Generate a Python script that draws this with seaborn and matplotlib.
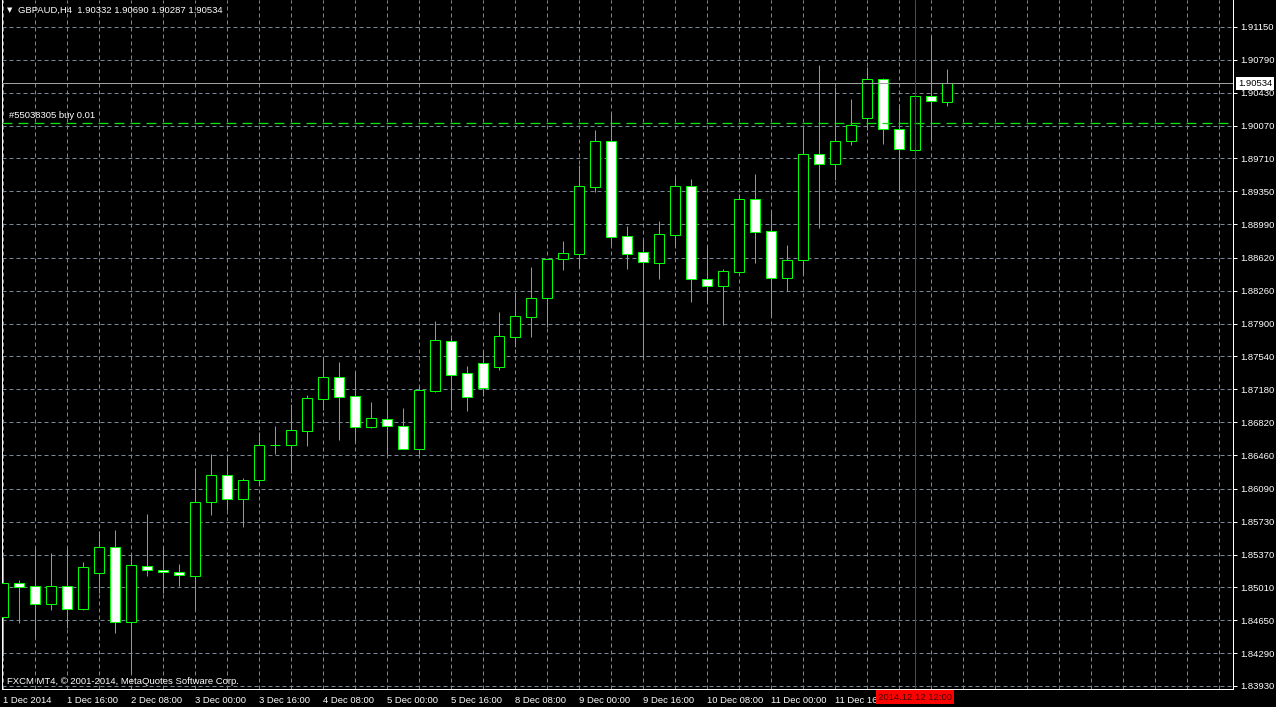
import numpy as np
import pandas as pd
import matplotlib
matplotlib.use('Agg')
import matplotlib.pyplot as plt
import matplotlib.transforms as mtransforms
import seaborn as sns

# GBPAUD H4 candles, 1 Dec 2014 00:00 .. 12 Dec 2014 20:00
open_ = [1.84689, 1.85055, 1.85022, 1.84825, 1.85022, 1.84770, 1.85165, 1.85450, 1.84628, 1.85248,
         1.85198, 1.85176, 1.85132, 1.85943, 1.86238, 1.85976, 1.86184, 1.86567, 1.86574, 1.86727,
         1.87078, 1.87312, 1.87104, 1.86771, 1.86852, 1.86775, 1.86530, 1.87165, 1.87707, 1.87356,
         1.87466, 1.87425, 1.87757, 1.87976, 1.88184, 1.88605, 1.88666, 1.89400, 1.89898, 1.88857,
         1.88682, 1.88568, 1.88874, 1.89405, 1.88386, 1.88316, 1.88469, 1.89262, 1.88912, 1.88397,
         1.88594, 1.89755, 1.89646, 1.89898, 1.90156, 1.90577, 1.90029, 1.89806, 1.90391, 1.90332]
high = [1.85347, 1.85091, 1.85439, 1.85384, 1.85439, 1.85285, 1.85632, 1.85639, 1.85365, 1.85814,
        1.85453, 1.85267, 1.86315, 1.86472, 1.86439, 1.86212, 1.86713, 1.86779, 1.87020, 1.87118,
        1.87538, 1.87480, 1.87370, 1.87042, 1.87085, 1.86976, 1.87217, 1.87929, 1.87750, 1.87436,
        1.87611, 1.88031, 1.88250, 1.88517, 1.88610, 1.88805, 1.89638, 1.90022, 1.90197, 1.88970,
        1.88816, 1.89025, 1.89514, 1.89485, 1.88751, 1.88499, 1.89317, 1.89540, 1.89120, 1.88762,
        1.90054, 1.90734, 1.90496, 1.90361, 1.90712, 1.90588, 1.90303, 1.90438, 1.91051, 1.90690]
low = [1.84259, 1.84617, 1.84470, 1.84763, 1.84562, 1.84765, 1.84952, 1.84514, 1.84072, 1.85138,
       1.84952, 1.85029, 1.84763, 1.85807, 1.85858, 1.85675, 1.86143, 1.86472, 1.86260, 1.86563,
       1.86954, 1.86625, 1.86600, 1.86757, 1.86472, 1.86525, 1.86472, 1.87154, 1.86954, 1.86943,
       1.87107, 1.87392, 1.87647, 1.87757, 1.87866, 1.88488, 1.88513, 1.89346, 1.88762, 1.88499,
       1.87520, 1.88389, 1.88743, 1.88140, 1.88129, 1.87885, 1.88469, 1.88568, 1.87984, 1.88261,
       1.88441, 1.88945, 1.89477, 1.89857, 1.90022, 1.89871, 1.89357, 1.89781, 1.89901, 1.90287]
close = [1.85055, 1.85018, 1.84825, 1.85022, 1.84770, 1.85231, 1.85450, 1.84628, 1.85252, 1.85198,
         1.85176, 1.85143, 1.85943, 1.86238, 1.85976, 1.86184, 1.86567, 1.86574, 1.86731, 1.87082,
         1.87312, 1.87100, 1.86771, 1.86863, 1.86782, 1.86530, 1.87173, 1.87718, 1.87341, 1.87100,
         1.87198, 1.87761, 1.87980, 1.88178, 1.88605, 1.88671, 1.89405, 1.89898, 1.88853, 1.88666,
         1.88572, 1.88879, 1.89405, 1.88386, 1.88316, 1.88473, 1.89266, 1.88901, 1.88397, 1.88594,
         1.89755, 1.89646, 1.89898, 1.90073, 1.90577, 1.90029, 1.89810, 1.90391, 1.90336, 1.90534]

price_ticks = [1.91150, 1.90790, 1.90430, 1.90070, 1.89710, 1.89350, 1.88990, 1.88620, 1.88260,
               1.87900, 1.87540, 1.87180, 1.86820, 1.86460, 1.86090, 1.85730, 1.85370, 1.85010,
               1.84650, 1.84290, 1.83930]
time_tick_bars = [0, 4, 8, 12, 16, 20, 24, 28, 32, 36, 40, 44, 48, 52]
time_tick_labels = ['1 Dec 2014', '1 Dec 16:00', '2 Dec 08:00', '3 Dec 00:00', '3 Dec 16:00',
                    '4 Dec 08:00', '5 Dec 00:00', '5 Dec 16:00', '8 Dec 08:00', '9 Dec 00:00',
                    '9 Dec 16:00', '10 Dec 08:00', '11 Dec 00:00', '11 Dec 16:00']

bid_price = 1.90534
order_price = 1.90102
order_label = '#55038305 buy 0.01'
cursor_bar = 57
cursor_label = '2014.12.12 12:00'
header = 'GBPAUD,H4  1.90332 1.90690 1.90287 1.90534'
copyright_text = 'FXCM MT4, \u00a9 2001-2014, MetaQuotes Software Corp.'

df = pd.DataFrame({'open': open_, 'high': high, 'low': low, 'close': close})
df['bar'] = np.arange(len(df))
df['bull'] = df['close'] >= df['open']

sns.set_style('dark', {'axes.facecolor': 'black', 'figure.facecolor': 'black'})
plt.rcParams['font.family'] = ['Liberation Sans', 'DejaVu Sans']
plt.rcParams['lines.scale_dashes'] = False

W, H = 1276, 707
px = 0.72  # one pixel in points at dpi 100
green = '#00ff00'
grid_c = '#778899'
fs = 6.8

fig = plt.figure(figsize=(W / 100, H / 100), dpi=100)
fig.patch.set_facecolor('black')
ax = fig.add_axes([2 / W, 18 / H, 1231 / W, 689 / H])
ax.set_facecolor('black')

ax.set_xlim(-1 / 16, 1230 / 16)
ax.set_ylim(1.838970, 1.914458)

# grid
for v in price_ticks:
    ax.axhline(v, color=grid_c, lw=px, ls=(0, (4 * px, 3 * px)), zorder=1)
for b in range(0, 78, 2):
    ax.axvline(b, color=grid_c, lw=px, ls=(0, (4 * px, 3 * px)), zorder=1)

# candles
ax.vlines(df['bar'], df['low'], df['high'], color=green, lw=px, zorder=2)
bottoms = df[['open', 'close']].min(axis=1)
heights = (df['close'] - df['open']).abs().clip(lower=0.00002)
ax.bar(df['bar'], heights, bottom=bottoms, width=0.6,
       color=np.where(df['bull'], 'black', 'white'),
       edgecolor=green, linewidth=px, zorder=3)

# bid line, order line, cursor
ax.axhline(bid_price, color='#a0a0a0', lw=px, zorder=4)
ax.axhline(order_price, color='#10e010', lw=1.3 * px, ls=(0, (10 * px, 6 * px)), zorder=4)
ax.axvline(cursor_bar, color='red', lw=px, zorder=5)

for name, s in ax.spines.items():
    s.set_color('white')
    s.set_linewidth(px)
    s.set_visible(name != 'top')

ax.yaxis.tick_right()
ax.set_yticks(price_ticks)
ax.set_yticklabels([f'{v:.5f}' for v in price_ticks])
ax.set_xticks(time_tick_bars)
ax.set_xticklabels(time_tick_labels, ha='left')
ax.tick_params(axis='both', colors='white', labelcolor='white', labelsize=fs,
               direction='out', length=3, width=px, pad=1.5)
ax.tick_params(axis='x', pad=2)
ax.tick_params(axis='y', pad=2.5)
ax.grid(False)

blend = mtransforms.blended_transform_factory(ax.transAxes, ax.transData)
ax.text(1 + 5 / 1231, bid_price, f'{bid_price:.5f}', transform=blend, ha='left', va='center',
        fontsize=fs, color='black', clip_on=False, zorder=10,
        bbox=dict(boxstyle='square,pad=0.2', fc='white', ec='none'))

blendx = mtransforms.blended_transform_factory(ax.transData, fig.transFigure)
ax.text(cursor_bar, 1 - 697 / H, cursor_label, transform=blendx, ha='center', va='center',
        fontsize=fs, color='#400000', clip_on=False, zorder=10,
        bbox=dict(boxstyle='square,pad=0.25', fc='red', ec='none'))

fig.text(7 / W, 1 - 10 / H, '\u25bc', fontsize=5, color='white', va='center', ha='left',
         family=['DejaVu Sans'])
fig.text(18 / W, 1 - 10 / H, header, fontsize=fs, color='white', va='center', ha='left')
fig.text(9 / W, 1 - 116 / H, order_label, fontsize=fs, color='white', va='center', ha='left')
fig.text(7 / W, 1 - 681 / H, copyright_text, fontsize=fs, color='white', va='center', ha='left')

fig.savefig('out.png', dpi=100, facecolor='black')
